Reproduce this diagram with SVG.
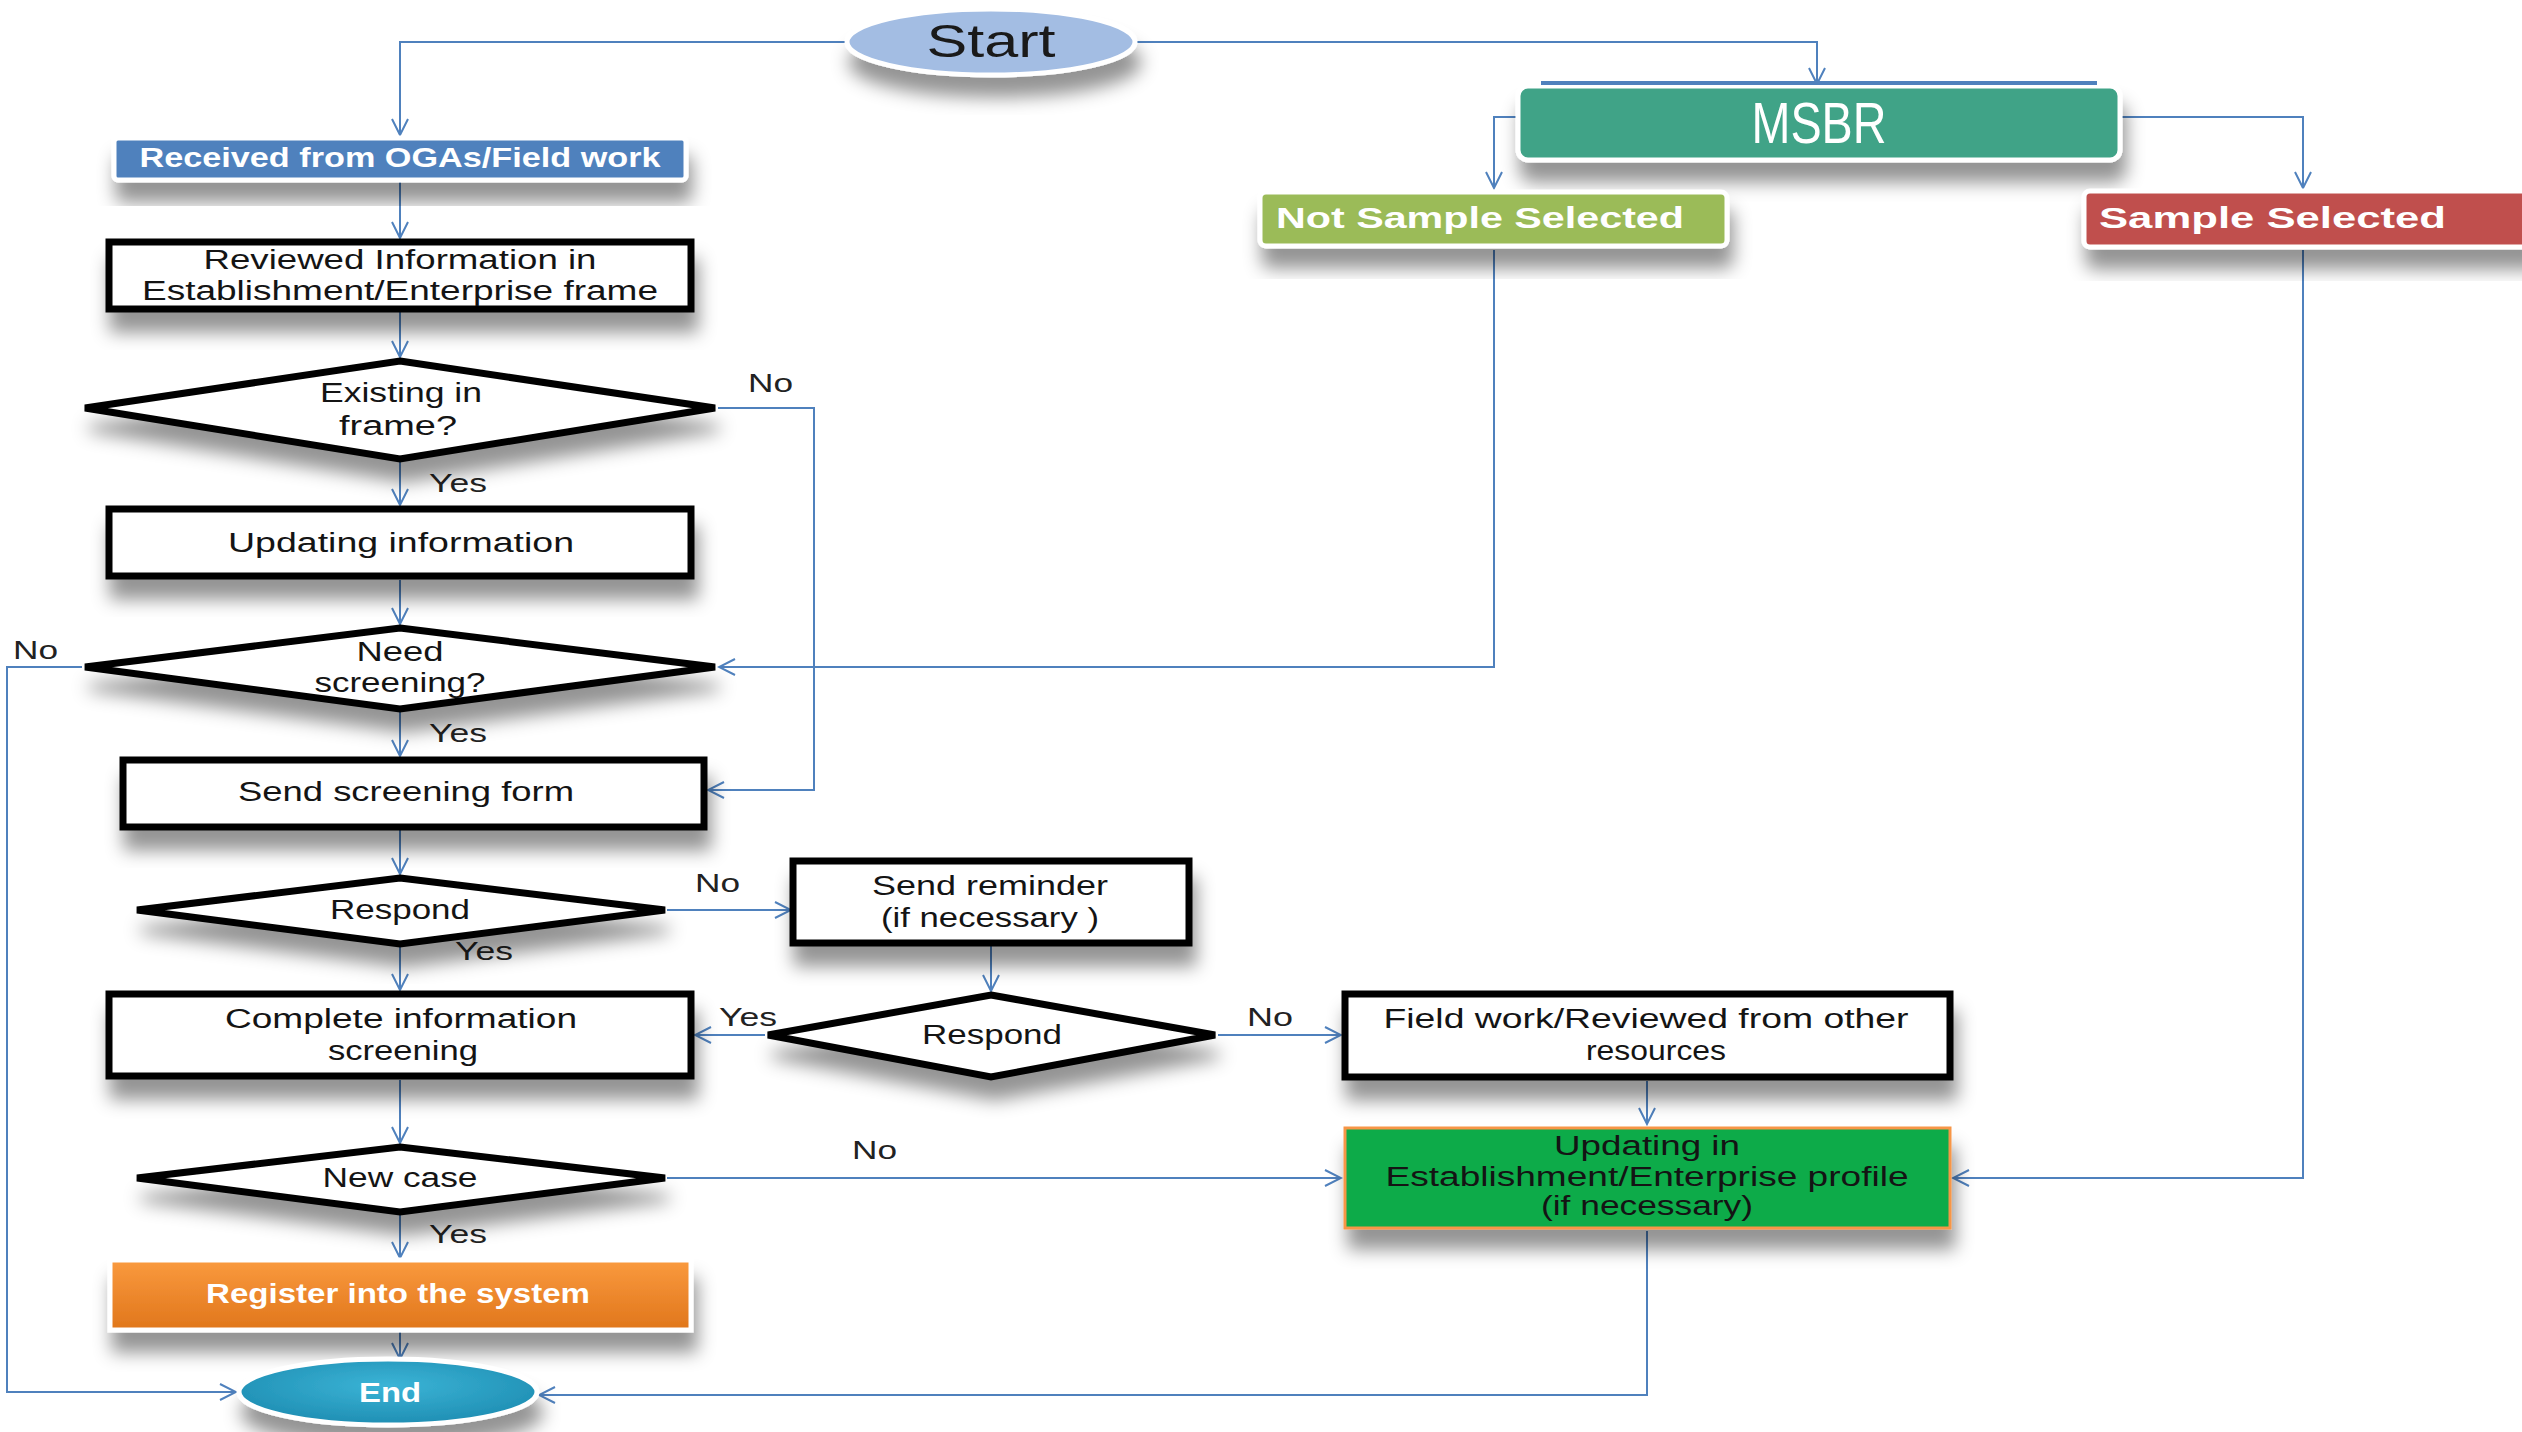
<svg xmlns="http://www.w3.org/2000/svg" width="2522" height="1432" viewBox="0 0 2522 1432">
<defs>
  <filter id="sh" x="-20%" y="-30%" width="140%" height="190%">
    <feDropShadow dx="4" dy="20" stdDeviation="9" flood-color="#000" flood-opacity="0.42"/>
  </filter>
  <marker id="ar" viewBox="0 0 20 20" refX="18" refY="10" markerWidth="20" markerHeight="20" markerUnits="userSpaceOnUse" orient="auto">
    <path d="M2,2 L18,10 L2,18" fill="none" stroke="#4f81bd" stroke-width="2"/>
  </marker>
  <linearGradient id="gOrange" x1="0" y1="0" x2="0" y2="1">
    <stop offset="0" stop-color="#fa9a3e"/>
    <stop offset="1" stop-color="#e0761b"/>
  </linearGradient>
  <radialGradient id="gEnd" cx="0.5" cy="0.4" r="0.6">
    <stop offset="0" stop-color="#3bb4d6"/>
    <stop offset="1" stop-color="#1f8eb3"/>
  </radialGradient>
  <style>
    .conn { fill: none; stroke: #4f81bd; stroke-width: 2; marker-end: url(#ar); }
    .box { fill: #ffffff; stroke: #000000; stroke-width: 7; }
    .dia { fill: #ffffff; stroke: #000000; stroke-width: 7; stroke-linejoin: miter; }
    .t { font-family: "Liberation Sans", Arial, sans-serif; font-size: 27px; fill: #141414; text-anchor: middle; }
    .tw { font-family: "Liberation Sans", Arial, sans-serif; font-size: 27px; fill: #ffffff; font-weight: bold; text-anchor: middle; }
    .lbl { font-family: "Liberation Sans", Arial, sans-serif; font-size: 25px; fill: #222222; }
  </style>
</defs>
<rect width="2522" height="1432" fill="#ffffff"/>

<g id="connectors">
  <path class="conn" d="M847,42 H400 V135"/>
  <path class="conn" d="M1137,42 H1817 V84"/>
  <path class="conn" d="M400,182 V238"/>
  <path class="conn" d="M400,311 V357"/>
  <path class="conn" d="M400,461 V505"/>
  <path class="conn" d="M718,408 H814 V790 H708"/>
  <path class="conn" d="M400,580 V624"/>
  <path class="conn" d="M82,667 H7 V1392 H236"/>
  <path class="conn" d="M1494,250 V667 H719"/>
  <path class="conn" d="M400,712 V756"/>
  <path class="conn" d="M400,830 V874"/>
  <path class="conn" d="M667,910 H791"/>
  <path class="conn" d="M400,947 V990"/>
  <path class="conn" d="M991,946 V991"/>
  <path class="conn" d="M765,1035 H695"/>
  <path class="conn" d="M1218,1035 H1341"/>
  <path class="conn" d="M400,1080 V1143"/>
  <path class="conn" d="M667,1178 H1341"/>
  <path class="conn" d="M400,1215 V1258"/>
  <path class="conn" d="M400,1332 V1359"/>
  <path class="conn" d="M1647,1081 V1124"/>
  <path class="conn" d="M1647,1231 V1395 H539"/>
  <path class="conn" d="M1516,117 H1494 V188"/>
  <path class="conn" d="M2122,117 H2303 V188"/>
  <path class="conn" d="M2303,250 V1178 H1953"/>
  <text class="lbl" x="748" y="392" textLength="45" lengthAdjust="spacingAndGlyphs">No</text>
  <text class="lbl" x="429" y="492" textLength="58" lengthAdjust="spacingAndGlyphs">Yes</text>
  <text class="lbl" x="13" y="659" textLength="45" lengthAdjust="spacingAndGlyphs">No</text>
  <text class="lbl" x="429" y="742" textLength="58" lengthAdjust="spacingAndGlyphs">Yes</text>
  <text class="lbl" x="695" y="892" textLength="45" lengthAdjust="spacingAndGlyphs">No</text>
  <text class="lbl" x="455" y="960" textLength="58" lengthAdjust="spacingAndGlyphs">Yes</text>
  <text class="lbl" x="719" y="1026" textLength="58" lengthAdjust="spacingAndGlyphs">Yes</text>
  <text class="lbl" x="1247" y="1026" textLength="46" lengthAdjust="spacingAndGlyphs">No</text>
  <text class="lbl" x="852" y="1159" textLength="45" lengthAdjust="spacingAndGlyphs">No</text>
  <text class="lbl" x="429" y="1243" textLength="58" lengthAdjust="spacingAndGlyphs">Yes</text>
</g>

<g id="start">
  <ellipse cx="991" cy="42" rx="144" ry="33" fill="#a3bde3" stroke="#ffffff" stroke-width="5" filter="url(#sh)"/>
  <text x="991" y="57" font-family="Liberation Sans, Arial, sans-serif" font-size="46" fill="#1a1a1a" text-anchor="middle" textLength="129" lengthAdjust="spacingAndGlyphs">Start</text>
</g>

<g id="received">
  <rect x="114" y="138" width="572" height="42" rx="4" fill="#4f81bd" stroke="#ffffff" stroke-width="5" filter="url(#sh)"/>
  <text class="tw" x="400" y="167" font-size="25" textLength="521" lengthAdjust="spacingAndGlyphs">Received  from OGAs/Field work</text>
</g>

<g id="reviewed">
  <rect class="box" x="109" y="242" width="582" height="67" filter="url(#sh)"/>
  <text class="t" x="400" y="269" textLength="393" lengthAdjust="spacingAndGlyphs">Reviewed Information in</text>
  <text class="t" x="400" y="300" textLength="516" lengthAdjust="spacingAndGlyphs">Establishment/Enterprise frame</text>
</g>

<g id="existing">
  <polygon class="dia" points="400,361 715,408 400,459 85,408" filter="url(#sh)"/>
  <text class="t" x="401" y="402" textLength="162" lengthAdjust="spacingAndGlyphs">Existing in</text>
  <text class="t" x="398" y="435" textLength="118" lengthAdjust="spacingAndGlyphs">frame?</text>
</g>

<g id="updating">
  <rect class="box" x="109" y="509" width="582" height="67" filter="url(#sh)"/>
  <text class="t" x="401" y="552" textLength="346" lengthAdjust="spacingAndGlyphs">Updating information</text>
</g>

<g id="need">
  <polygon class="dia" points="400,628 715,667 400,709 85,667" filter="url(#sh)"/>
  <text class="t" x="400" y="661" textLength="87" lengthAdjust="spacingAndGlyphs">Need</text>
  <text class="t" x="400" y="692" textLength="171" lengthAdjust="spacingAndGlyphs">screening?</text>
</g>

<g id="sendform">
  <rect class="box" x="123" y="760" width="581" height="67" filter="url(#sh)"/>
  <text class="t" x="406" y="801" textLength="336" lengthAdjust="spacingAndGlyphs">Send  screening form</text>
</g>

<g id="respond1">
  <polygon class="dia" points="400,878 665,910 400,944 137,910" filter="url(#sh)"/>
  <text class="t" x="400" y="919" textLength="140" lengthAdjust="spacingAndGlyphs">Respond</text>
</g>

<g id="reminder">
  <rect class="box" x="793" y="861" width="396" height="82" filter="url(#sh)"/>
  <text class="t" x="990" y="895" textLength="236" lengthAdjust="spacingAndGlyphs">Send reminder</text>
  <text class="t" x="990" y="927" textLength="218" lengthAdjust="spacingAndGlyphs">(if necessary )</text>
</g>

<g id="respond2">
  <polygon class="dia" points="991,995 1215,1035 991,1077 768,1035" filter="url(#sh)"/>
  <text class="t" x="992" y="1044" textLength="140" lengthAdjust="spacingAndGlyphs">Respond</text>
</g>

<g id="complete">
  <rect class="box" x="109" y="994" width="582" height="82" filter="url(#sh)"/>
  <text class="t" x="401" y="1028" textLength="352" lengthAdjust="spacingAndGlyphs">Complete information</text>
  <text class="t" x="403" y="1060" textLength="150" lengthAdjust="spacingAndGlyphs">screening</text>
</g>

<g id="fieldwork">
  <rect class="box" x="1345" y="994" width="605" height="83" filter="url(#sh)"/>
  <text class="t" x="1646" y="1028" textLength="525" lengthAdjust="spacingAndGlyphs">Field work/Reviewed from  other</text>
  <text class="t" x="1656" y="1060" textLength="140" lengthAdjust="spacingAndGlyphs">resources</text>
</g>

<g id="newcase">
  <polygon class="dia" points="400,1147 665,1178 400,1212 137,1178" filter="url(#sh)"/>
  <text class="t" x="400" y="1187" textLength="155" lengthAdjust="spacingAndGlyphs">New case</text>
</g>

<g id="register">
  <rect x="110" y="1260" width="581" height="70" fill="url(#gOrange)" stroke="#ffffff" stroke-width="5" filter="url(#sh)"/>
  <text class="tw" x="398" y="1303" textLength="384" lengthAdjust="spacingAndGlyphs">Register into the system</text>
</g>

<g id="end">
  <ellipse cx="388" cy="1392" rx="149" ry="33" fill="url(#gEnd)" stroke="#ffffff" stroke-width="5" filter="url(#sh)"/>
  <text class="tw" x="390" y="1402" textLength="62" lengthAdjust="spacingAndGlyphs">End</text>
</g>

<g id="profile">
  <rect x="1345" y="1128" width="605" height="100" fill="#0aab4a" stroke="#f79646" stroke-width="3" filter="url(#sh)"/>
  <text class="t" x="1647" y="1155" textLength="186" lengthAdjust="spacingAndGlyphs">Updating in</text>
  <text class="t" x="1647" y="1186" textLength="523" lengthAdjust="spacingAndGlyphs">Establishment/Enterprise profile</text>
  <text class="t" x="1647" y="1215" textLength="212" lengthAdjust="spacingAndGlyphs">(if necessary)</text>
</g>

<g id="msbr">
  <rect x="1518" y="86" width="602" height="74" rx="10" fill="#3fa387" stroke="#ffffff" stroke-width="5" filter="url(#sh)"/>
  <line x1="1541" y1="83" x2="2097" y2="83" stroke="#4f81bd" stroke-width="4"/>
  <text x="1819" y="143" font-family="Liberation Sans, Arial, sans-serif" font-size="58" fill="#ffffff" text-anchor="middle" textLength="135" lengthAdjust="spacingAndGlyphs">MSBR</text>
</g>

<g id="notsample">
  <rect x="1260" y="192" width="467" height="54" rx="6" fill="#9bbb59" stroke="#ffffff" stroke-width="5" filter="url(#sh)"/>
  <text x="1276" y="228" font-family="Liberation Sans, Arial, sans-serif" font-size="30" font-weight="bold" fill="#ffffff" textLength="408" lengthAdjust="spacingAndGlyphs">Not Sample Selected</text>
</g>

<g id="sample">
  <rect x="2084" y="191" width="460" height="56" rx="6" fill="#c0504d" stroke="#ffffff" stroke-width="5" filter="url(#sh)"/>
  <text x="2099" y="228" font-family="Liberation Sans, Arial, sans-serif" font-size="30" font-weight="bold" fill="#ffffff" textLength="347" lengthAdjust="spacingAndGlyphs">Sample Selected</text>
</g>
</svg>
